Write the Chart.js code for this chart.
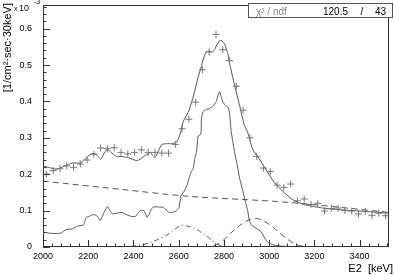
<!DOCTYPE html>
<html>
<head>
<meta charset="utf-8">
<script src="https://cdn.jsdelivr.net/npm/chart.js@4"></script>
<style>
  html, body { margin: 0; padding: 0; background: #fff; }
  canvas { display: block; }
</style>
</head>
<body>
<canvas id="specChart" width="394" height="275"></canvas>
<script>
// ---- data, y in units of 1e-3 [1/cm2 sec 30keV]
const binCenters = [2015, 2045, 2075, 2105, 2135, 2165, 2195, 2225, 2255, 2285,
  2315, 2345, 2375, 2405, 2435, 2465, 2495, 2525, 2555, 2585,
  2615, 2645, 2675, 2705, 2735, 2765, 2795, 2825, 2855, 2885,
  2915, 2945, 2975, 3005, 3035, 3065, 3095, 3125, 3155, 3185,
  3215, 3245, 3275, 3305, 3335, 3365, 3395, 3425, 3455, 3485, 3515];
const measured = [0.200, 0.210, 0.215, 0.223, 0.219, 0.228, 0.239, 0.255, 0.272, 0.270,
  0.273, 0.260, 0.256, 0.260, 0.267, 0.260, 0.260, 0.258, 0.258, 0.282,
  0.325, 0.351, 0.398, 0.487, 0.536, 0.584, 0.542, 0.512, 0.442, 0.376,
  0.300, 0.249, 0.217, 0.207, 0.170, 0.164, 0.173, 0.127, 0.132, 0.117,
  0.120, 0.099, 0.106, 0.107, 0.100, 0.099, 0.091, 0.098, 0.087, 0.093, 0.086];

// total fit (upper solid line)
const fitE = [2000, 2029, 2059, 2095, 2130, 2168, 2187, 2204, 2226, 2239, 2256, 2268, 2285, 2301,
  2321, 2340, 2365, 2384, 2409, 2423, 2453, 2467, 2475, 2485, 2496, 2511, 2525, 2546, 2569,
  2591, 2606, 2620, 2642, 2664, 2686, 2700, 2708, 2722, 2734, 2744, 2756, 2766, 2781, 2792,
  2803, 2810, 2817, 2825, 2847, 2869, 2890, 2905, 2927, 2956, 2985, 3022, 3066, 3109, 3153,
  3226, 3299, 3372, 3443, 3530];
const fitTotal = [0.223, 0.218, 0.214, 0.222, 0.231, 0.231, 0.242, 0.252, 0.257, 0.252, 0.241, 0.255, 0.269, 0.260,
  0.250, 0.249, 0.247, 0.244, 0.238, 0.239, 0.252, 0.256, 0.260, 0.252, 0.246, 0.265, 0.281, 0.284, 0.284,
  0.288, 0.310, 0.345, 0.370, 0.412, 0.467, 0.495, 0.515, 0.536, 0.538, 0.536, 0.540, 0.552, 0.567, 0.566,
  0.558, 0.545, 0.532, 0.505, 0.445, 0.390, 0.335, 0.315, 0.269, 0.242, 0.214, 0.178, 0.150, 0.128, 0.117,
  0.108, 0.103, 0.100, 0.097, 0.093];

// response shape (lower solid line)
const shapeE = [2000, 2029, 2066, 2082, 2102, 2131, 2153, 2178, 2185, 2190, 2204, 2219, 2231, 2241,
  2253, 2261, 2270, 2285, 2296, 2306, 2327, 2350, 2372, 2390, 2409, 2421, 2432, 2445, 2460,
  2469, 2480, 2489, 2511, 2533, 2547, 2562, 2577, 2591, 2601, 2610, 2628, 2642, 2654, 2664,
  2672, 2679, 2686, 2698, 2701, 2708, 2722, 2737, 2752, 2766, 2773, 2781, 2789, 2796, 2810,
  2820, 2826, 2832, 2839, 2847, 2857, 2869, 2883, 2897, 2905, 2912, 2922, 2934, 2956, 2966,
  2978, 2992, 3022, 3058, 3124, 3211, 3530];
const shapeVals = [0.041, 0.038, 0.037, 0.039, 0.048, 0.050, 0.058, 0.060, 0.070, 0.081, 0.084, 0.089, 0.088, 0.084,
  0.073, 0.082, 0.095, 0.111, 0.100, 0.091, 0.093, 0.095, 0.088, 0.084, 0.084, 0.094, 0.100, 0.101, 0.082,
  0.090, 0.105, 0.110, 0.110, 0.109, 0.100, 0.094, 0.096, 0.100, 0.107, 0.140, 0.157, 0.180, 0.205, 0.215,
  0.246, 0.260, 0.305, 0.310, 0.355, 0.372, 0.378, 0.381, 0.387, 0.400, 0.415, 0.427, 0.410, 0.398, 0.387,
  0.383, 0.360, 0.320, 0.290, 0.262, 0.230, 0.190, 0.155, 0.120, 0.100, 0.075, 0.060, 0.055, 0.046, 0.040,
  0.027, 0.014, 0.005, 0.002, 0.001, 0, 0];

// background (dashed)
const bgE = [2000, 2350, 2650, 3080, 3530];
const bgVals = [0.181, 0.158, 0.139, 0.123, 0.095];

// first peak (dash-dot)
const peak1E = [2336, 2393, 2431, 2467, 2502, 2540, 2568, 2591, 2613, 2642, 2664, 2686, 2708, 2730, 2752, 2774, 2800, 2830];
const peak1Vals = [0, 0.002, 0.005, 0.011, 0.019, 0.030, 0.042, 0.052, 0.060, 0.057, 0.052, 0.046, 0.036, 0.027, 0.016, 0.007, 0.002, 0];

// second peak (dashed)
const peak2E = [2712, 2743, 2774, 2800, 2826, 2861, 2896, 2918, 2941, 2957, 2975, 3010, 3045, 3080, 3115, 3150, 3189];
const peak2Vals = [0, 0.002, 0.008, 0.020, 0.036, 0.055, 0.070, 0.076, 0.078, 0.077, 0.072, 0.058, 0.040, 0.022, 0.008, 0.002, 0];

const xTicks = [2000, 2200, 2400, 2600, 2800, 3000, 3200, 3400];
const yTicks = [0, 0.1, 0.2, 0.3, 0.4, 0.5, 0.6];
const yTickLabels = ['0', '0.1', '0.2', '0.3', '0.4', '0.5', '0.6'];
const chi2 = '120.5';
const ndf = '43';

function pts(xs, ys) {
  return xs.map((x, i) => ({ x: x, y: ys[i] }));
}

const lineColor = '#555';
const fontName = '"Liberation Sans", Arial, sans-serif';

// ROOT style frame, ticks and labels drawn from chart scales
const rootAxes = {
  id: 'rootAxes',
  afterDraw(chart) {
    const ctx = chart.ctx;
    const a = chart.chartArea;
    const x = chart.scales.x;
    const y = chart.scales.y;
    ctx.save();
    ctx.strokeStyle = '#333';
    ctx.lineWidth = 1;
    ctx.strokeRect(a.left + 0.5, a.top + 0.5, a.right - a.left - 1, a.bottom - a.top - 1);

    // x ticks
    ctx.beginPath();
    for (let v = 2000; v <= 3530; v += 40) {
      const px = Math.round(x.getPixelForValue(v)) + 0.5;
      const len = (v % 200 === 0) ? 7 : 3.5;
      ctx.moveTo(px, a.bottom);
      ctx.lineTo(px, a.bottom - len);
    }
    // y ticks
    for (let k = 0; k <= 33; k++) {
      const v = k * 0.02;
      const py = Math.round(y.getPixelForValue(v)) + 0.5;
      const len = (k % 5 === 0) ? 7 : 3.5;
      ctx.moveTo(a.left, py);
      ctx.lineTo(a.left + len, py);
    }
    ctx.stroke();

    ctx.fillStyle = '#000';
    ctx.font = '9px ' + fontName;
    ctx.textAlign = 'center';
    ctx.textBaseline = 'alphabetic';
    xTicks.forEach(v => ctx.fillText(String(v), x.getPixelForValue(v), 259));
    ctx.textAlign = 'right';
    ctx.textBaseline = 'middle';
    yTicks.forEach((v, i) => ctx.fillText(yTickLabels[i], 32, y.getPixelForValue(v)));

    // axis titles
    ctx.font = '11px ' + fontName;
    ctx.textAlign = 'right';
    ctx.textBaseline = 'alphabetic';
    ctx.fillText('E2  [keV]', 393, 272);

    ctx.save();
    ctx.translate(11, 3);
    ctx.rotate(-Math.PI / 2);
    ctx.textAlign = 'right';
    ctx.fillText('[1/cm\u00b2\u00b7sec\u00b730keV]', 0, 0);
    ctx.restore();

    // x 10^-3
    ctx.textAlign = 'left';
    ctx.font = '7px ' + fontName;
    ctx.fillText('x', 14, 11);
    ctx.font = '9px ' + fontName;
    ctx.fillText('10', 19, 11);
    ctx.font = '7px ' + fontName;
    ctx.fillText('-3', 34, 4);

    // chi2 box
    ctx.fillStyle = '#fff';
    ctx.fillRect(248, 3, 145, 15);
    ctx.strokeStyle = '#555';
    ctx.strokeRect(248.5, 3.5, 144, 14);
    ctx.font = '10px ' + fontName;
    ctx.fillStyle = '#888';
    ctx.fillText('\u03c7\u00b2 / ndf', 256, 15);
    ctx.fillStyle = '#000';
    ctx.textAlign = 'right';
    ctx.fillText(chi2, 348, 15);
    ctx.fillText(ndf, 386, 15);
    ctx.textAlign = 'center';
    ctx.fillText('/', 362, 15);
    ctx.restore();
  }
};

const ctx = document.getElementById('specChart');

new Chart(ctx, {
  type: 'scatter',
  data: {
    datasets: [
      {
        label: 'data',
        data: pts(binCenters, measured),
        pointStyle: 'cross',
        pointRadius: 3.5,
        borderColor: '#777',
        borderWidth: 1,
        showLine: false
      },
      {
        label: 'total',
        data: pts(fitE, fitTotal),
        showLine: true,
        borderColor: lineColor,
        borderWidth: 1,
        pointRadius: 0,
        tension: 0.2
      },
      {
        label: 'shape',
        data: pts(shapeE, shapeVals),
        showLine: true,
        borderColor: lineColor,
        borderWidth: 1,
        pointRadius: 0,
        tension: 0.15
      },
      {
        label: 'background',
        data: pts(bgE, bgVals),
        showLine: true,
        borderColor: lineColor,
        borderWidth: 1,
        borderDash: [6, 4],
        pointRadius: 0,
        tension: 0.3
      },
      {
        label: 'peak 1',
        data: pts(peak1E, peak1Vals),
        showLine: true,
        borderColor: lineColor,
        borderWidth: 1,
        borderDash: [5, 3, 1, 3],
        pointRadius: 0,
        tension: 0.3
      },
      {
        label: 'peak 2',
        data: pts(peak2E, peak2Vals),
        showLine: true,
        borderColor: lineColor,
        borderWidth: 1,
        borderDash: [6, 4],
        pointRadius: 0,
        tension: 0.3
      }
    ]
  },
  options: {
    responsive: false,
    devicePixelRatio: 1,
    animation: false,
    layout: { padding: { left: 43, right: 1, top: 3, bottom: 28 } },
    plugins: { legend: { display: false }, tooltip: { enabled: false } },
    scales: {
      x: { type: 'linear', min: 2000, max: 3530, display: false },
      y: { type: 'linear', min: 0, max: 0.665, display: false }
    }
  },
  plugins: [rootAxes]
});
</script>
</body>
</html>
